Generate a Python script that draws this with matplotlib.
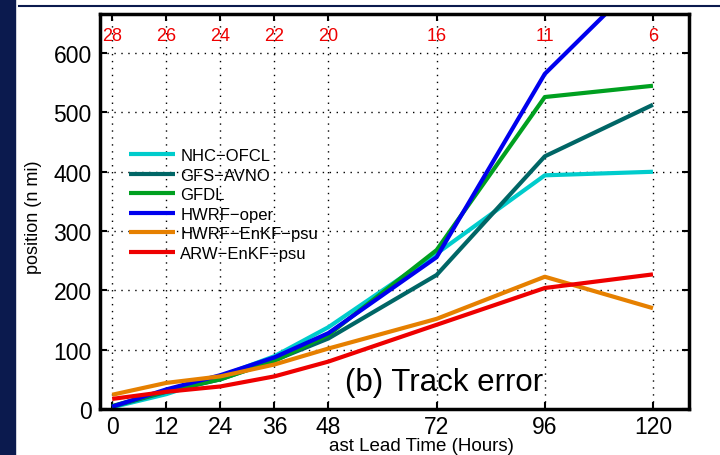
import matplotlib
matplotlib.use("Agg")
import matplotlib.pyplot as plt
from matplotlib.patches import Rectangle
from matplotlib.lines import Line2D

plt.rcParams['font.family'] = ['Liberation Sans', 'DejaVu Sans']

hours = [0, 12, 24, 36, 48, 72, 96, 120]
cases = [28, 26, 24, 22, 20, 16, 11, 6]
nhc = [3, 25, 55, 89, 138, 262, 394, 400]
gfs = [4, 29, 50, 82, 119, 226, 426, 513]
gfdl = [5, 30, 50, 81, 125, 268, 526, 545]
hwrf = [4, 33, 57, 87, 128, 256, 565, 745]
hwrf_enkf = [24, 44, 55, 75, 102, 152, 223, 170]
arw = [17, 29, 38, 55, 80, 142, 204, 227]

series = [
    ("NHC\u2212OFCL", nhc, "#00CCCC"),
    ("GFS\u2212AVNO", gfs, "#006666"),
    ("GFDL", gfdl, "#00A020"),
    ("HWRF\u2212oper", hwrf, "#0000EE"),
    ("HWRF\u2212EnKF\u2212psu", hwrf_enkf, "#E68000"),
    ("ARW\u2212EnKF\u2212psu", arw, "#EE0000"),
]

fig = plt.figure(figsize=(7.2, 4.56), dpi=100)
ax = fig.add_axes([100/720, 1-410/456, 589/720, 395/456])

for name, vals, col in series:
    ax.plot(hours, vals, color=col, lw=3, label=name, solid_capstyle='butt')

ax.set_xlim(-2.7, 128)
ax.set_ylim(0, 666)
ax.set_xticks(hours)
ax.set_yticks([0, 100, 200, 300, 400, 500, 600])
ax.grid(True, color='black', linestyle=(0, (1, 4)), lw=1)
ax.tick_params(direction='in', top=True, right=True, length=5, width=1.5,
               labelsize=16.5, pad=6)
ax.tick_params(axis='x', pad=4)
for s in ax.spines.values():
    s.set_linewidth(2.5)

for h, c in zip(hours, cases):
    ax.text(h, 630, str(c), color='#EE0000', fontsize=13, ha='center', va='center')

ax.text(345/720, 1-383/456, "(b) Track error", transform=fig.transFigure,
        fontsize=22.5, ha='left', va='center')

fig.text(33/720, 1-217/456, "position (n mi)", fontsize=13, rotation=90,
         ha='center', va='center')
fig.text(421/720, 1-447/456, "ast Lead Time (Hours)", fontsize=13.5,
         ha='center', va='center')

ax.legend(loc='upper left', bbox_to_anchor=(0.05, 0.66), frameon=False,
          fontsize=12, handlelength=2.75, handletextpad=0.3,
          labelspacing=0.27, borderpad=0, borderaxespad=0)

# slide frame
fig.patches.append(Rectangle((0, 0), 15/720, 1, transform=fig.transFigure,
                             color='#0B1A4E', zorder=10))
fig.lines.append(Line2D([19/720, 1], [1-6.5/456, 1-6.5/456], transform=fig.transFigure,
                        color='#0B1A4E', lw=1.5))

fig.savefig("out.png", dpi=100)
